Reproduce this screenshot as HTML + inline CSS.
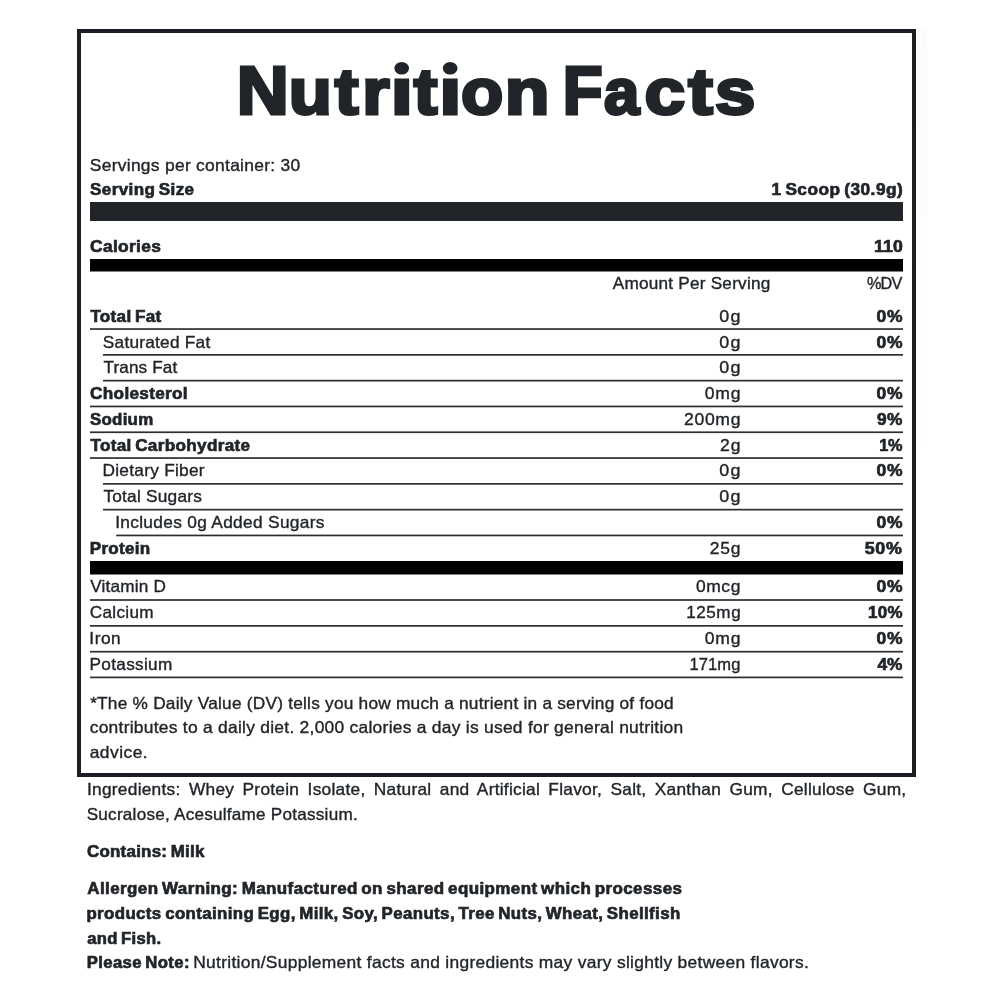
<!DOCTYPE html>
<html><head><meta charset="utf-8"><title>Nutrition Facts</title>
<style>
html,body{margin:0;padding:0;background:#fff;}
body{width:1000px;height:1000px;position:relative;overflow:hidden;font-family:"Liberation Sans",sans-serif;color:#212529;}
#w{position:absolute;left:0;top:0;width:1000px;height:1000px;will-change:transform;}
.t{position:absolute;white-space:pre;line-height:20px;font-weight:400;}
svg{position:absolute;left:0;top:0;}
.tl{position:absolute;top:50px;font-size:68.0px;line-height:80px;font-weight:700;white-space:pre;-webkit-text-stroke:3.2px #212529;transform-origin:0 65.6px;}
#ing{position:absolute;left:86.8px;width:780.400px;top:779.200px;font-size:16.5px;line-height:20px;text-align:justify;text-align-last:justify;white-space:nowrap;letter-spacing:0.240px;-webkit-text-stroke:0.35px #212529;transform-origin:0 50%;transform:scaleX(1.050);}
</style></head><body>
<svg width="1000" height="1000" viewBox="0 0 1000 1000">
<rect x="77" y="29" width="839" height="4" fill="#1b1f23"/>
<rect x="77" y="773" width="839" height="4" fill="#1b1f23"/>
<rect x="77" y="29" width="4" height="748" fill="#1b1f23"/>
<rect x="912" y="29" width="4" height="748" fill="#1b1f23"/>
<defs><linearGradient id="fg" x1="0" y1="0" x2="0" y2="1"><stop offset="0" stop-color="#fcfbfb"/><stop offset="1" stop-color="#ffffff"/></linearGradient></defs><rect x="916" y="29" width="11" height="420" fill="url(#fg)"/>
<rect x="90" y="202" width="813" height="19" fill="#212529"/>
<rect x="90" y="259" width="813" height="12.5" fill="#000"/>
<rect x="90" y="561" width="813" height="13.5" fill="#000"/>
<rect x="90" y="328.2" width="813" height="1.7" fill="#2b2f34"/>
<rect x="103" y="354.0" width="800" height="1.7" fill="#2b2f34"/>
<rect x="103" y="379.8" width="800" height="1.7" fill="#2b2f34"/>
<rect x="90" y="405.6" width="813" height="1.7" fill="#2b2f34"/>
<rect x="90" y="431.4" width="813" height="1.7" fill="#2b2f34"/>
<rect x="90" y="457.2" width="813" height="1.7" fill="#2b2f34"/>
<rect x="103" y="483.0" width="800" height="1.7" fill="#2b2f34"/>
<rect x="103" y="508.8" width="800" height="1.7" fill="#2b2f34"/>
<rect x="116.2" y="534.6" width="786.8" height="1.7" fill="#2b2f34"/>
<rect x="90" y="599.15" width="813" height="1.7" fill="#2b2f34"/>
<rect x="90" y="625.0" width="813" height="1.7" fill="#2b2f34"/>
<rect x="90" y="650.85" width="813" height="1.7" fill="#2b2f34"/>
<rect x="90" y="676.55" width="813" height="1.7" fill="#2b2f34"/>
</svg>
<div id="w">
<span class="tl" id="t0" style="left:236px;transform:translateX(0.700px) scale(1.0573,1.0)">N</span>
<span class="tl" id="t1" style="left:288px;transform:translateX(0.680px) scale(1.0370,0.96)">u</span>
<span class="tl" id="t2" style="left:334px;transform:translateX(0.761px) scale(1.0493,0.96)">t</span>
<span class="tl" id="t3" style="left:362px;transform:translateX(0.155px) scale(1.0346,0.96)">r</span>
<span class="tl" id="t4" style="left:390px;transform:translateX(0.668px) scale(1.1737,0.96)">i</span>
<span class="tl" id="t5" style="left:413px;transform:translateX(0.761px) scale(1.0452,0.96)">t</span>
<span class="tl" id="t6" style="left:439px;transform:translateX(0.251px) scale(1.1743,0.96)">i</span>
<span class="tl" id="t7" style="left:461px;transform:translateX(0.014px) scale(1.0162,0.96)">o</span>
<span class="tl" id="t8" style="left:504px;transform:translateX(0.840px) scale(1.0764,0.96)">n</span>
<span class="tl" id="t9" style="left:562px;transform:translateX(0.752px) scale(0.9587,1.0)">F</span>
<span class="tl" id="t10" style="left:604px;transform:translateX(0.107px) scale(0.9339,0.96)">a</span>
<span class="tl" id="t11" style="left:644px;transform:translateX(0.518px) scale(1.0747,0.96)">c</span>
<span class="tl" id="t12" style="left:688px;transform:translateX(0.273px) scale(1.0851,0.96)">t</span>
<span class="tl" id="t13" style="left:714px;transform:translateX(0.923px) scale(1.0674,0.96)">s</span>
<span class="t" id="i0" style="top:154.75px;font-size:16.5px;letter-spacing:0.269px;-webkit-text-stroke:0.35px #212529;left:89px;transform-origin:0 50%;transform:translateX(0.772px) scaleX(1.0557);">Servings per container: 30</span>
<span class="t" id="i1" style="top:179.20px;font-size:16.3px;letter-spacing:0.355px;-webkit-text-stroke:0.65px #212529;font-weight:700;word-spacing:-1.5px;left:90px;transform-origin:0 50%;transform:translateX(0.025px) scaleX(1.0491);">Serving Size</span>
<span class="t" id="i2" style="top:179.20px;font-size:16.3px;letter-spacing:0.461px;-webkit-text-stroke:0.65px #212529;font-weight:700;word-spacing:-1.5px;right:97px;transform-origin:100% 50%;transform:translateX(-0.017px) scaleX(1.0594);">1 Scoop (30.9g)</span>
<span class="t" id="i3" style="top:235.75px;font-size:16.3px;letter-spacing:0.309px;-webkit-text-stroke:0.65px #212529;font-weight:700;word-spacing:-1.5px;left:90px;transform-origin:0 50%;transform:translateX(0.038px) scaleX(1.0675);">Calories</span>
<span class="t" id="i4" style="top:235.75px;font-size:16.3px;letter-spacing:0.212px;-webkit-text-stroke:0.65px #212529;font-weight:700;word-spacing:-1.5px;right:96px;transform-origin:100% 50%;transform:translateX(-0.809px) scaleX(1.0849);">110</span>
<span class="t" id="i5" style="top:273.30px;font-size:16.5px;letter-spacing:0.211px;-webkit-text-stroke:0.35px #212529;left:612px;transform-origin:0 50%;transform:translateX(0.823px) scaleX(1.0408);">Amount Per Serving</span>
<span class="t" id="i6" style="top:273.30px;font-size:16.5px;letter-spacing:-0.779px;-webkit-text-stroke:0.35px #212529;right:98px;transform-origin:100% 50%;transform:translateX(-0.621px) scaleX(0.9857);">%DV</span>
<span class="t" id="i7" style="top:305.80px;font-size:16.3px;letter-spacing:0.280px;-webkit-text-stroke:0.65px #212529;font-weight:700;word-spacing:-1.5px;left:90px;transform-origin:0 50%;transform:translateX(0.375px) scaleX(1.0505);">Total Fat</span>
<span class="t" id="i8" style="top:305.80px;font-size:16.5px;letter-spacing:1.161px;-webkit-text-stroke:0.35px #212529;right:257px;transform-origin:100% 50%;transform:translateX(-0.848px) scaleX(1.0863);">0g</span>
<span class="t" id="i9" style="top:305.80px;font-size:16.3px;letter-spacing:0.705px;-webkit-text-stroke:0.65px #212529;font-weight:700;word-spacing:-1.5px;right:96px;transform-origin:100% 50%;transform:translateX(-0.681px) scaleX(1.0752);">0%</span>
<span class="t" id="i10" style="top:331.57px;font-size:16.5px;letter-spacing:0.223px;-webkit-text-stroke:0.35px #212529;left:102px;transform-origin:0 50%;transform:translateX(0.807px) scaleX(1.0466);">Saturated Fat</span>
<span class="t" id="i11" style="top:331.57px;font-size:16.5px;letter-spacing:1.161px;-webkit-text-stroke:0.35px #212529;right:257px;transform-origin:100% 50%;transform:translateX(-0.848px) scaleX(1.0863);">0g</span>
<span class="t" id="i12" style="top:331.57px;font-size:16.3px;letter-spacing:0.705px;-webkit-text-stroke:0.65px #212529;font-weight:700;word-spacing:-1.5px;right:96px;transform-origin:100% 50%;transform:translateX(-0.681px) scaleX(1.0752);">0%</span>
<span class="t" id="i13" style="top:357.34px;font-size:16.5px;letter-spacing:0.103px;-webkit-text-stroke:0.35px #212529;left:103px;transform-origin:0 50%;transform:translateX(0.512px) scaleX(1.0407);">Trans Fat</span>
<span class="t" id="i14" style="top:357.34px;font-size:16.5px;letter-spacing:1.161px;-webkit-text-stroke:0.35px #212529;right:257px;transform-origin:100% 50%;transform:translateX(-0.848px) scaleX(1.0863);">0g</span>
<span class="t" id="i15" style="top:383.11px;font-size:16.3px;letter-spacing:0.290px;-webkit-text-stroke:0.65px #212529;font-weight:700;word-spacing:-1.5px;left:90px;transform-origin:0 50%;transform:translateX(0.091px) scaleX(1.0547);">Cholesterol</span>
<span class="t" id="i16" style="top:383.11px;font-size:16.5px;letter-spacing:0.841px;-webkit-text-stroke:0.35px #212529;right:258px;transform-origin:100% 50%;transform:translateX(-0.176px) scaleX(1.0634);">0mg</span>
<span class="t" id="i17" style="top:383.11px;font-size:16.3px;letter-spacing:0.705px;-webkit-text-stroke:0.65px #212529;font-weight:700;word-spacing:-1.5px;right:96px;transform-origin:100% 50%;transform:translateX(-0.681px) scaleX(1.0752);">0%</span>
<span class="t" id="i18" style="top:408.88px;font-size:16.3px;letter-spacing:0.252px;-webkit-text-stroke:0.65px #212529;font-weight:700;word-spacing:-1.5px;left:89px;transform-origin:0 50%;transform:translateX(0.918px) scaleX(1.0382);">Sodium</span>
<span class="t" id="i19" style="top:408.88px;font-size:16.5px;letter-spacing:0.618px;-webkit-text-stroke:0.35px #212529;right:258px;transform-origin:100% 50%;transform:translateX(-0.445px) scaleX(1.0660);">200mg</span>
<span class="t" id="i20" style="top:408.88px;font-size:16.3px;letter-spacing:0.369px;-webkit-text-stroke:0.65px #212529;font-weight:700;word-spacing:-1.5px;right:97px;transform-origin:100% 50%;transform:translateX(-0.516px) scaleX(1.0625);">9%</span>
<span class="t" id="i21" style="top:434.65px;font-size:16.3px;letter-spacing:0.318px;-webkit-text-stroke:0.65px #212529;font-weight:700;word-spacing:-1.5px;left:90px;transform-origin:0 50%;transform:translateX(0.426px) scaleX(1.0504);">Total Carbohydrate</span>
<span class="t" id="i22" style="top:434.65px;font-size:16.5px;letter-spacing:1.069px;-webkit-text-stroke:0.35px #212529;right:258px;transform-origin:100% 50%;transform:translateX(-0.777px) scaleX(1.0618);">2g</span>
<span class="t" id="i23" style="top:434.65px;font-size:16.3px;letter-spacing:-0.301px;-webkit-text-stroke:0.65px #212529;font-weight:700;word-spacing:-1.5px;right:97px;transform-origin:100% 50%;transform:translateX(-0.883px) scaleX(0.9988);">1%</span>
<span class="t" id="i24" style="top:460.42px;font-size:16.5px;letter-spacing:0.241px;-webkit-text-stroke:0.35px #212529;left:102px;transform-origin:0 50%;transform:translateX(0.489px) scaleX(1.0495);">Dietary Fiber</span>
<span class="t" id="i25" style="top:460.42px;font-size:16.5px;letter-spacing:1.161px;-webkit-text-stroke:0.35px #212529;right:257px;transform-origin:100% 50%;transform:translateX(-0.848px) scaleX(1.0863);">0g</span>
<span class="t" id="i26" style="top:460.42px;font-size:16.3px;letter-spacing:0.705px;-webkit-text-stroke:0.65px #212529;font-weight:700;word-spacing:-1.5px;right:96px;transform-origin:100% 50%;transform:translateX(-0.681px) scaleX(1.0752);">0%</span>
<span class="t" id="i27" style="top:486.19px;font-size:16.5px;letter-spacing:0.210px;-webkit-text-stroke:0.35px #212529;left:103px;transform-origin:0 50%;transform:translateX(0.375px) scaleX(1.0476);">Total Sugars</span>
<span class="t" id="i28" style="top:486.19px;font-size:16.5px;letter-spacing:1.161px;-webkit-text-stroke:0.35px #212529;right:257px;transform-origin:100% 50%;transform:translateX(-0.848px) scaleX(1.0863);">0g</span>
<span class="t" id="i29" style="top:511.96px;font-size:16.5px;letter-spacing:0.297px;-webkit-text-stroke:0.35px #212529;left:115px;transform-origin:0 50%;transform:translateX(0.137px) scaleX(1.0493);">Includes 0g Added Sugars</span>
<span class="t" id="i30" style="top:511.96px;font-size:16.3px;letter-spacing:0.705px;-webkit-text-stroke:0.65px #212529;font-weight:700;word-spacing:-1.5px;right:96px;transform-origin:100% 50%;transform:translateX(-0.681px) scaleX(1.0752);">0%</span>
<span class="t" id="i31" style="top:537.70px;font-size:16.3px;letter-spacing:0.272px;-webkit-text-stroke:0.65px #212529;font-weight:700;word-spacing:-1.5px;left:89px;transform-origin:0 50%;transform:translateX(0.817px) scaleX(1.0445);">Protein</span>
<span class="t" id="i32" style="top:537.70px;font-size:16.5px;letter-spacing:0.664px;-webkit-text-stroke:0.35px #212529;right:258px;transform-origin:100% 50%;transform:translateX(-0.378px) scaleX(1.0593);">25g</span>
<span class="t" id="i33" style="top:537.70px;font-size:16.3px;letter-spacing:0.657px;-webkit-text-stroke:0.65px #212529;font-weight:700;word-spacing:-1.5px;right:96px;transform-origin:100% 50%;transform:translateX(-0.865px) scaleX(1.0995);">50%</span>
<span class="t" id="i34" style="top:576.45px;font-size:16.5px;letter-spacing:0.177px;-webkit-text-stroke:0.35px #212529;left:90px;transform-origin:0 50%;transform:translateX(0.229px) scaleX(1.0401);">Vitamin D</span>
<span class="t" id="i35" style="top:576.45px;font-size:16.5px;letter-spacing:0.551px;-webkit-text-stroke:0.35px #212529;right:258px;transform-origin:100% 50%;transform:translateX(-0.634px) scaleX(1.0578);">0mcg</span>
<span class="t" id="i36" style="top:576.45px;font-size:16.3px;letter-spacing:0.705px;-webkit-text-stroke:0.65px #212529;font-weight:700;word-spacing:-1.5px;right:96px;transform-origin:100% 50%;transform:translateX(-0.681px) scaleX(1.0752);">0%</span>
<span class="t" id="i37" style="top:602.40px;font-size:16.5px;letter-spacing:0.297px;-webkit-text-stroke:0.35px #212529;left:89px;transform-origin:0 50%;transform:translateX(0.791px) scaleX(1.0392);">Calcium</span>
<span class="t" id="i38" style="top:602.40px;font-size:16.5px;letter-spacing:0.503px;-webkit-text-stroke:0.35px #212529;right:258px;transform-origin:100% 50%;transform:translateX(-0.808px) scaleX(1.0362);">125mg</span>
<span class="t" id="i39" style="top:602.40px;font-size:16.3px;letter-spacing:0.272px;-webkit-text-stroke:0.65px #212529;font-weight:700;word-spacing:-1.5px;right:97px;transform-origin:100% 50%;transform:translateX(-0.588px) scaleX(1.0397);">10%</span>
<span class="t" id="i40" style="top:628.30px;font-size:16.5px;letter-spacing:0.504px;-webkit-text-stroke:0.35px #212529;left:89px;transform-origin:0 50%;transform:translateX(0.347px) scaleX(1.0435);">Iron</span>
<span class="t" id="i41" style="top:628.30px;font-size:16.5px;letter-spacing:0.841px;-webkit-text-stroke:0.35px #212529;right:258px;transform-origin:100% 50%;transform:translateX(-0.176px) scaleX(1.0634);">0mg</span>
<span class="t" id="i42" style="top:628.30px;font-size:16.3px;letter-spacing:0.705px;-webkit-text-stroke:0.65px #212529;font-weight:700;word-spacing:-1.5px;right:96px;transform-origin:100% 50%;transform:translateX(-0.681px) scaleX(1.0752);">0%</span>
<span class="t" id="i43" style="top:654.10px;font-size:16.5px;letter-spacing:0.308px;-webkit-text-stroke:0.35px #212529;left:89px;transform-origin:0 50%;transform:translateX(0.569px) scaleX(1.0406);">Potassium</span>
<span class="t" id="i44" style="top:654.10px;font-size:16.5px;letter-spacing:0.122px;-webkit-text-stroke:0.35px #212529;right:259px;transform-origin:100% 50%;transform:translateX(-0.525px) scaleX(1.0006);">171mg</span>
<span class="t" id="i45" style="top:654.10px;font-size:16.3px;letter-spacing:-0.178px;-webkit-text-stroke:0.65px #212529;font-weight:700;word-spacing:-1.5px;right:97px;transform-origin:100% 50%;transform:translateX(-0.996px) scaleX(1.0625);">4%</span>
<span class="t" id="i46" style="top:692.60px;font-size:16.5px;letter-spacing:0.218px;-webkit-text-stroke:0.35px #212529;left:90px;transform-origin:0 50%;transform:translateX(0.150px) scaleX(1.0465);">*The % Daily Value (DV) tells you how much a nutrient in a serving of food</span>
<span class="t" id="i47" style="top:717.20px;font-size:16.5px;letter-spacing:0.247px;-webkit-text-stroke:0.35px #212529;left:89px;transform-origin:0 50%;transform:translateX(0.675px) scaleX(1.0556);">contributes to a daily diet. 2,000 calories a day is used for general nutrition</span>
<span class="t" id="i48" style="top:741.60px;font-size:16.5px;letter-spacing:0.449px;-webkit-text-stroke:0.35px #212529;left:89px;transform-origin:0 50%;transform:translateX(0.670px) scaleX(1.0553);">advice.</span>
<span class="t" id="i49" style="top:804.00px;font-size:16.5px;letter-spacing:0.231px;-webkit-text-stroke:0.35px #212529;left:86px;transform-origin:0 50%;transform:translateX(0.683px) scaleX(1.0374);">Sucralose, Acesulfame Potassium.</span>
<span class="t" id="i50" style="top:841.00px;font-size:16.3px;letter-spacing:0.250px;-webkit-text-stroke:0.65px #212529;font-weight:700;word-spacing:-1.5px;left:86px;transform-origin:0 50%;transform:translateX(0.922px) scaleX(1.0390);">Contains: Milk</span>
<span class="t" id="i51" style="top:878.25px;font-size:16.3px;letter-spacing:0.385px;-webkit-text-stroke:0.65px #212529;font-weight:700;word-spacing:-1.5px;left:87px;transform-origin:0 50%;transform:translateX(0.329px) scaleX(1.0426);">Allergen Warning: Manufactured on shared equipment which processes</span>
<span class="t" id="i52" style="top:903.25px;font-size:16.3px;letter-spacing:0.373px;-webkit-text-stroke:0.65px #212529;font-weight:700;word-spacing:-1.5px;left:86px;transform-origin:0 50%;transform:translateX(0.439px) scaleX(1.0352);">products containing Egg, Milk, Soy, Peanuts, Tree Nuts, Wheat, Shellfish</span>
<span class="t" id="i53" style="top:927.50px;font-size:16.3px;letter-spacing:0.299px;-webkit-text-stroke:0.65px #212529;font-weight:700;word-spacing:-1.5px;left:87px;transform-origin:0 50%;transform:translateX(0.140px) scaleX(1.0213);">and Fish.</span>
<span class="t" id="i54" style="top:952.00px;font-size:16.3px;letter-spacing:0.358px;-webkit-text-stroke:0.65px #212529;font-weight:700;word-spacing:-1.5px;left:86px;transform-origin:0 50%;transform:translateX(0.701px) scaleX(1.0262);">Please Note:</span>
<span class="t" id="i55" style="top:952.00px;font-size:16.5px;letter-spacing:0.274px;-webkit-text-stroke:0.35px #212529;left:193px;transform-origin:0 50%;transform:translateX(0.241px) scaleX(1.0558);">Nutrition/Supplement facts and ingredients may vary slightly between flavors.</span>
<div id="ing">Ingredients: Whey Protein Isolate, Natural and Artificial Flavor, Salt, Xanthan Gum, Cellulose Gum,</div>
<svg width="1000" height="140" viewBox="0 0 1000 140"><rect x="392.00" y="56" width="19.4" height="19.8" fill="#fff"/><ellipse cx="401.7" cy="68.3" rx="7.3" ry="6.3" fill="#212529"/><rect x="440.45" y="56" width="19.4" height="19.8" fill="#fff"/><ellipse cx="450.15" cy="68.3" rx="7.3" ry="6.3" fill="#212529"/></svg>
</div>
</body></html>
